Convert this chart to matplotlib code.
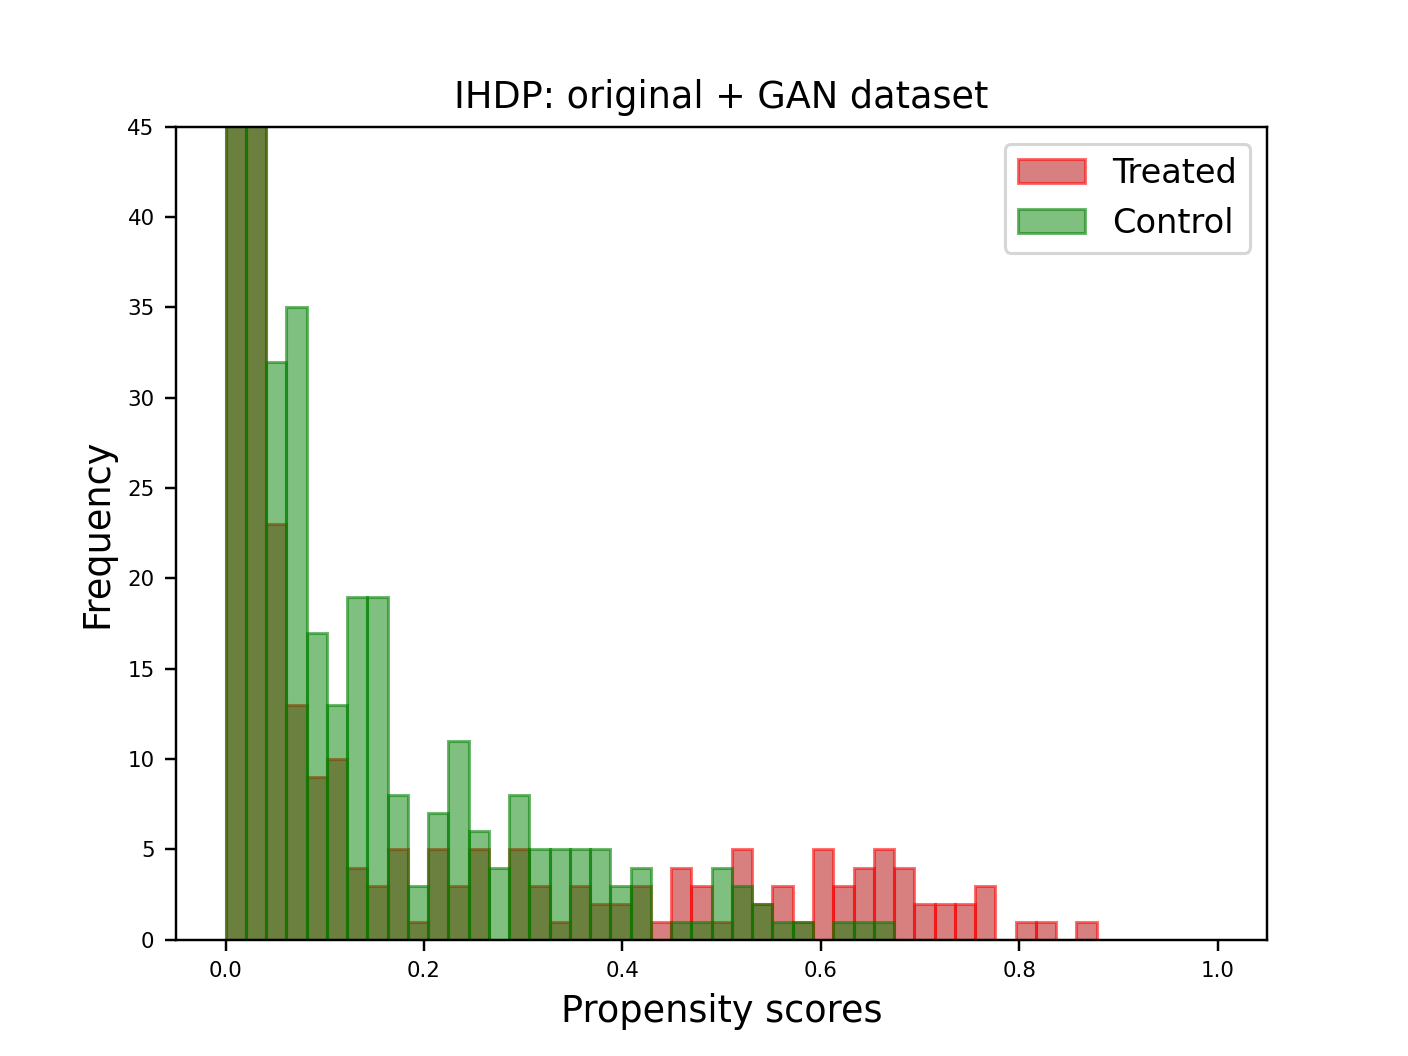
import numpy as np
import matplotlib
matplotlib.use("Agg")
import matplotlib.pyplot as plt

bin_lo, bin_hi, n_bins = 0.0, 0.878, 43
treated = [120, 80, 23, 13, 9, 10, 4, 3, 5, 1, 5, 3, 5, 0, 5, 3, 1, 3, 2, 2,
           3, 1, 4, 3, 1, 5, 2, 3, 1, 5, 3, 4, 5, 4, 2, 2, 2, 3, 0, 1, 1, 0, 1]
control = [200, 120, 32, 35, 17, 13, 19, 19, 8, 3, 7, 11, 6, 4, 8, 5, 5, 5, 5, 3,
           4, 0, 1, 1, 4, 3, 2, 1, 1, 0, 1, 1, 1, 0, 0, 0, 0, 0, 0, 0, 0, 0, 0]

edges = np.linspace(bin_lo, bin_hi, n_bins + 1)
centers = (edges[:-1] + edges[1:]) / 2

fig, ax = plt.subplots(figsize=(6.4, 4.8), dpi=220)
ax.hist(centers, bins=edges, weights=treated, facecolor=(0.70, 0.0, 0.0, 0.5),
        edgecolor=(1, 0, 0, 0.55), linewidth=1.0, label="Treated")
ax.hist(centers, bins=edges, weights=control, facecolor=(0, 0.5, 0, 0.5),
        edgecolor=(0, 0.5, 0, 0.55), linewidth=1.0, label="Control")
ax.set_xlim(-0.05, 1.05)
ax.set_ylim(0, 45)
ax.set_yticks(np.arange(0, 46, 5))
ax.set_xticks(np.arange(0, 1.01, 0.2))
ax.tick_params(labelsize=7)
ax.set_title("IHDP: original + GAN dataset", fontsize=12)
ax.set_xlabel("Propensity scores", fontsize=12)
ax.set_ylabel("Frequency", fontsize=12)
ax.legend(fontsize=11)
fig.savefig("out.png", dpi=220)
